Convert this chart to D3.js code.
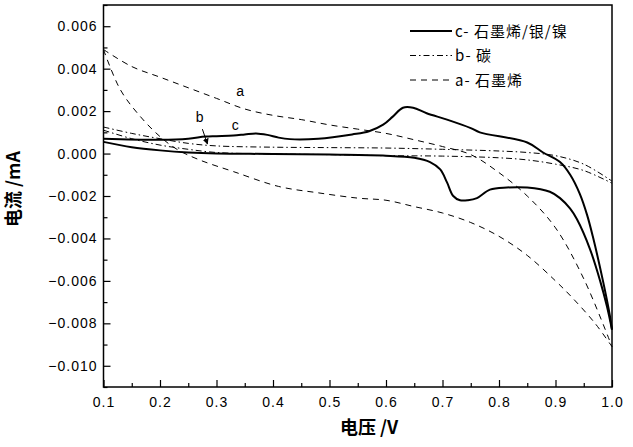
<!DOCTYPE html>
<html>
<head>
<meta charset="utf-8">
<script src="https://cdn.jsdelivr.net/npm/d3@7"></script>
<style>
  body { margin: 0; background: #fff; }
  svg text { font-family: "Liberation Sans", Arial, sans-serif; }
</style>
</head>
<body>
<svg id="chart" width="633" height="447"></svg>
<script>
// curve c - graphene/silver/nickel (solid), forward and reverse scans
const cUpV = [0.1, 0.2, 0.25, 0.28, 0.3, 0.33, 0.35, 0.37, 0.39, 0.41, 0.43, 0.48, 0.54, 0.57, 0.595, 0.612, 0.63, 0.648, 0.672, 0.708, 0.75, 0.766, 0.85, 0.878, 0.908, 0.926, 0.943, 0.956, 0.966, 0.984, 0.996, 1.0];
const cUpI = [0.0007, 0.00065, 0.0007, 0.0008, 0.00082, 0.00085, 0.0009, 0.00095, 0.00088, 0.00075, 0.00068, 0.0007, 0.0009, 0.00105, 0.00136, 0.00174, 0.00216, 0.00216, 0.0019, 0.0016, 0.0012, 0.001, 0.00052, 0.00005, -0.0004, -0.001, -0.0019, -0.0029, -0.0039, -0.006, -0.0076, -0.0083];
const cLowV = [0.1, 0.15, 0.2, 0.25, 0.3, 0.4, 0.5, 0.6, 0.65, 0.678, 0.696, 0.708, 0.719, 0.731, 0.745, 0.761, 0.784, 0.814, 0.85, 0.89, 0.908, 0.926, 0.938, 0.961, 0.979, 0.991, 1.0];
const cLowI = [0.00055, 0.0003, 0.00015, 0.00005, 0.0, -0.00002, -0.00005, -0.0001, -0.0002, -0.0004, -0.00075, -0.00136, -0.002, -0.0022, -0.0022, -0.0021, -0.0017, -0.0016, -0.0016, -0.0018, -0.0021, -0.0026, -0.0031, -0.0045, -0.006, -0.0072, -0.0083];

// curve b - carbon (dash-dot)
const bUpV = [0.1, 0.15, 0.2, 0.25, 0.3, 0.4, 0.5, 0.6, 0.7, 0.8, 0.85, 0.9, 0.95, 1.0];
const bUpI = [0.00125, 0.00095, 0.0007, 0.00048, 0.00036, 0.0003, 0.00028, 0.00026, 0.0002, 0.00012, 0.00005, -0.0001, -0.0005, -0.0013];
const bLowV = [0.1, 0.15, 0.2, 0.25, 0.3, 0.4, 0.5, 0.6, 0.7, 0.8, 0.85, 0.9, 0.95, 1.0];
const bLowI = [0.0011, 0.0007, 0.0004, 0.0002, 0.00005, -0.00002, -0.00005, -0.0001, -0.00012, -0.0002, -0.0003, -0.0005, -0.0008, -0.0014];

// curve a - graphene (dashed)
const aUpV = [0.1, 0.15, 0.2, 0.25, 0.3, 0.35, 0.4, 0.45, 0.5, 0.55, 0.6, 0.65, 0.7, 0.75, 0.8, 0.85, 0.9, 0.95, 1.0];
const aUpI = [0.0049, 0.0041, 0.0036, 0.0031, 0.0026, 0.0021, 0.0018, 0.0016, 0.00135, 0.00115, 0.00095, 0.00065, 0.00033, -0.00005, -0.0009, -0.002, -0.0035, -0.0059, -0.0091];
const aLowV = [0.1, 0.13, 0.165, 0.2, 0.23, 0.27, 0.33, 0.41, 0.48, 0.55, 0.6, 0.65, 0.7, 0.75, 0.8, 0.85, 0.9, 0.93, 0.97, 1.0];
const aLowI = [0.0049, 0.003, 0.00175, 0.0008, 0.0002, -0.0003, -0.00085, -0.00155, -0.00185, -0.0021, -0.0022, -0.0025, -0.0028, -0.00325, -0.0039, -0.0048, -0.006, -0.0068, -0.008, -0.0091];

const xTicks = [0.1, 0.2, 0.3, 0.4, 0.5, 0.6, 0.7, 0.8, 0.9, 1.0];
const yTicks = [0.006, 0.004, 0.002, 0.0, -0.002, -0.004, -0.006, -0.008, -0.010];

const legendLabels = ["c- 石墨烯/银/镍", "b- 碳", "a- 石墨烯"];

const svg = d3.select("#chart");
const mLeft = 103.5, mRight = 612, mTop = 5, mBottom = 387;

const x = d3.scaleLinear().domain([0.1, 1.0]).range([mLeft, mRight]);
const y = d3.scaleLinear().domain([-0.011, 0.007]).range([mBottom, mTop]);

const line = d3.line()
    .x(d => x(d[0]))
    .y(d => y(d[1]))
    .curve(d3.curveCatmullRom.alpha(0.5));

const zip = (vs, is) => vs.map((v, i) => [v, is[i]]);

const series = [
    { up: zip(cUpV, cUpI), low: zip(cLowV, cLowI), width: 2, dash: null },
    { up: zip(bUpV, bUpI), low: zip(bLowV, bLowI), width: 1, dash: "6,3,1.5,3" },
    { up: zip(aUpV, aUpI), low: zip(aLowV, aLowI), width: 1, dash: "6,5" }
];

const plot = svg.append("g");
series.forEach(s => {
    [s.up, s.low].forEach(branch => {
        plot.append("path")
            .attr("d", line(branch))
            .attr("fill", "none")
            .attr("stroke", "#000")
            .attr("stroke-width", s.width)
            .attr("stroke-dasharray", s.dash);
    });
});

// frame
svg.append("rect")
    .attr("x", mLeft).attr("y", mTop)
    .attr("width", mRight - mLeft).attr("height", mBottom - mTop)
    .attr("fill", "none").attr("stroke", "#000").attr("stroke-width", 1.5);

// axes, ticks inside
svg.append("g")
    .attr("transform", `translate(0,${mBottom})`)
    .call(d3.axisBottom(x).tickValues(xTicks).tickSize(-7).tickPadding(10)
        .tickFormat(d3.format(".1f")));
svg.append("g")
    .attr("transform", `translate(0,${mBottom})`)
    .call(d3.axisBottom(x).tickValues(d3.range(0.15, 1.0, 0.1)).tickSize(-4).tickFormat(""));

svg.append("g")
    .attr("transform", `translate(${mLeft},0)`)
    .call(d3.axisLeft(y).tickValues(yTicks).tickSize(-7).tickPadding(6)
        .tickFormat(d3.format(".3f")));
svg.append("g")
    .attr("transform", `translate(${mLeft},0)`)
    .call(d3.axisLeft(y).tickValues(d3.range(-0.011, 0.0075, 0.002)).tickSize(-4).tickFormat(""));

svg.selectAll(".domain").remove();
svg.selectAll(".tick line").attr("stroke", "#000").attr("stroke-width", 1.2);
svg.selectAll(".tick text")
    .attr("fill", "#000")
    .style("font-size", "14px")
    .style("letter-spacing", "1px")
    .style("font-family", "'Liberation Sans', Arial, sans-serif");

// axis titles
svg.append("text")
    .attr("x", 369).attr("y", 434)
    .attr("text-anchor", "middle")
    .style("font-family", "'Noto Sans CJK SC', sans-serif")
    .style("font-size", "18px").style("font-weight", "bold")
    .text("电压 /V");
svg.append("text")
    .attr("transform", "translate(20,189) rotate(-90)")
    .attr("text-anchor", "middle")
    .style("font-family", "'Noto Sans CJK SC', sans-serif")
    .style("font-size", "18px").style("font-weight", "bold")
    .text("电流 /mA");

// legend
const legend = svg.append("g");
series.forEach((s, i) => {
    const ly = 31 + i * 24.5;
    legend.append("line")
        .attr("x1", 410).attr("x2", 452).attr("y1", ly).attr("y2", ly)
        .attr("stroke", "#000").attr("stroke-width", s.width)
        .attr("stroke-dasharray", s.dash);
    legend.append("text")
        .attr("x", 455).attr("y", ly + 5.5)
        .style("font-family", "'Noto Sans CJK SC', sans-serif")
        .style("font-size", "15px")
        .style("letter-spacing", "1px")
        .text(legendLabels[i]);
});

// curve labels
const notes = [["a", 0.342, 0.0027], ["b", 0.27, 0.0015], ["c", 0.333, 0.0011]];
svg.selectAll(".note")
    .data(notes)
    .enter()
    .append("text")
    .attr("class", "note")
    .attr("x", d => x(d[1]))
    .attr("y", d => y(d[2]))
    .attr("text-anchor", "middle")
    .style("font-size", "14px")
    .text(d => d[0]);

svg.append("defs").append("marker")
    .attr("id", "arrow")
    .attr("viewBox", "0 0 10 10")
    .attr("refX", 9).attr("refY", 5)
    .attr("markerWidth", 6).attr("markerHeight", 6)
    .attr("orient", "auto")
    .append("path").attr("d", "M0,0L10,5L0,10z").attr("fill", "#000");

svg.append("line")
    .attr("x1", x(0.275)).attr("y1", y(0.00115))
    .attr("x2", x(0.284)).attr("y2", y(0.00045))
    .attr("stroke", "#000").attr("stroke-width", 1)
    .attr("marker-end", "url(#arrow)");
</script>
</body>
</html>
